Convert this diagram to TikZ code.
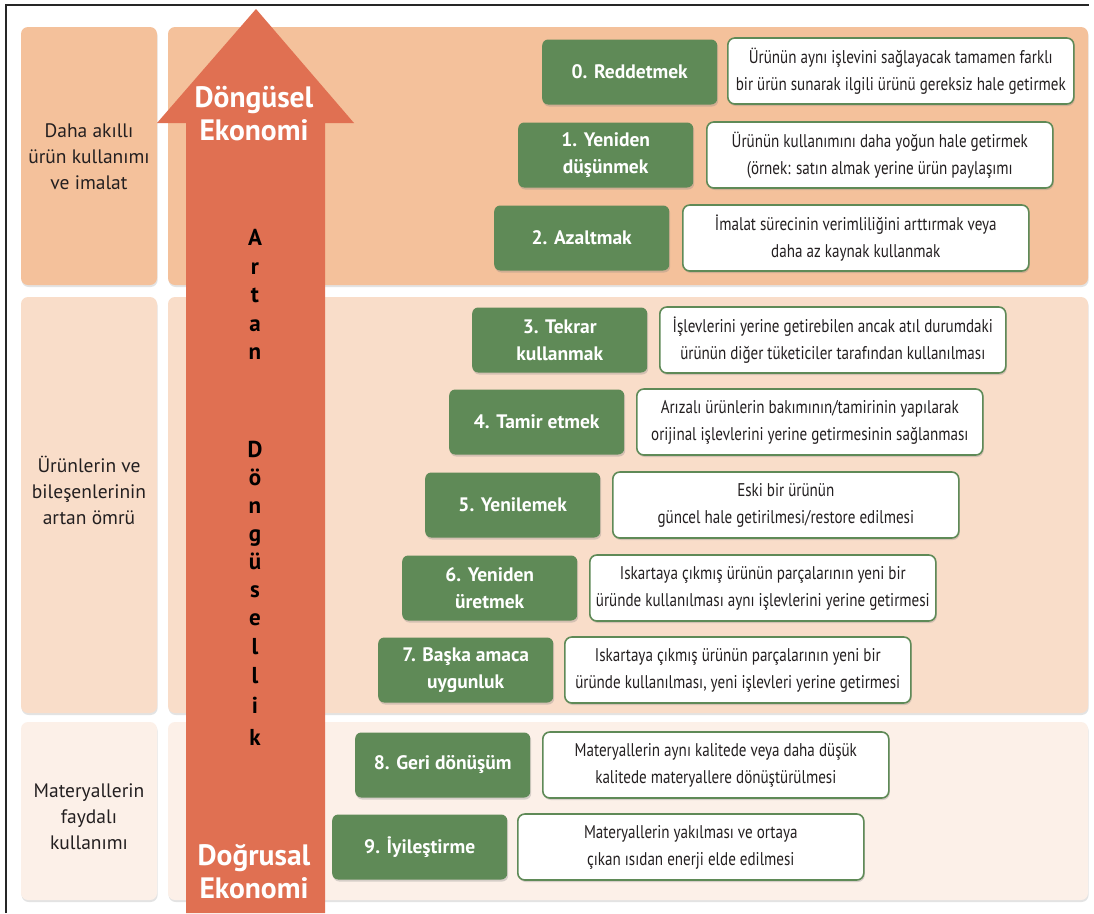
\documentclass[tikz,border=0pt]{standalone}
\usepackage{fontspec}
\setmainfont{PT Sans}
\newfontfamily\condfont[FakeStretch=0.82]{PT Sans}
\usetikzlibrary{shadows}
\definecolor{bandA}{RGB}{244,193,155}
\definecolor{bandB}{RGB}{249,221,201}
\definecolor{bandC}{RGB}{252,240,232}
\definecolor{arrowc}{RGB}{224,112,82}
\definecolor{grn}{RGB}{95,138,87}
\definecolor{txt}{RGB}{35,31,32}
\tikzset{
  band/.style={rounded corners=7pt, inner sep=0pt,
    drop shadow={shadow xshift=0.6pt, shadow yshift=-2pt, opacity=0.22}},
  sidelabel/.style={align=center, text=txt, font=\fontsize{19.5}{26}\selectfont},
  greenbox/.style={fill=grn, rounded corners=6pt, minimum width=175pt, minimum height=65pt,
    inner sep=2pt, text=white, align=center, anchor=west,
    font=\bfseries\fontsize{19.5}{27}\selectfont,
    drop shadow={shadow xshift=1pt, shadow yshift=-2pt, opacity=0.3}},
  whitebox/.style={fill=white, draw=grn, line width=1.6pt, rounded corners=7pt,
    minimum width=346pt, minimum height=66pt, inner sep=2pt, align=center, anchor=west,
    text=txt, font=\condfont\fontsize{18.4}{27}\selectfont,
    drop shadow={shadow xshift=1pt, shadow yshift=-2pt, opacity=0.3}},
  arrowtext/.style={text=white, align=center, font=\bfseries\fontsize{29.5}{33}\selectfont},
  vletter/.style={text=black, anchor=base, font=\bfseries\fontsize{23}{23}\selectfont, inner sep=0pt}
}
\begin{document}
\begin{tikzpicture}[x=1pt,y=-1pt]
\useasboundingbox (0,0) rectangle (1094,913);
\fill[white] (0,0) rectangle (1094,913);
\draw[line width=1.2pt, black!85] (6,913) -- (6,5) -- (1089,5);

% bands
\node[band, fill=bandA, minimum width=136pt, minimum height=258pt] (side1) at (89,156) {};
\node[band, fill=bandA, minimum width=920pt, minimum height=258pt] (panel1) at (628,156) {};
\node[band, fill=bandB, minimum width=136pt, minimum height=416pt] (side2) at (89,505) {};
\node[band, fill=bandB, minimum width=920pt, minimum height=416pt] (panel2) at (628,505) {};
\node[band, fill=bandC, minimum width=136pt, minimum height=178pt] (side3) at (89,811) {};
\node[band, fill=bandC, minimum width=920pt, minimum height=178pt] (panel3) at (628,811) {};

\node[sidelabel] (lab1) at (89,157) {Daha akıllı\\ürün kullanımı\\ve imalat};
\node[sidelabel] (lab2) at (89,490) {Ürünlerin ve\\bileşenlerinin\\artan ömrü};
\node[sidelabel] (lab3) at (89,817) {Materyallerin\\faydalı\\kullanımı};

% arrow
\fill[arrowc] (186,913) -- (186,123) -- (157,123) -- (256,9) -- (354,123) -- (325,123) -- (325,913) -- cycle;
\node[arrowtext] (top) at (254,114) {Döngüsel\\Ekonomi};
\node[arrowtext] (bot) at (254,872) {Doğrusal\\Ekonomi};
\foreach \ch/\yy [count=\i] in {A/245,r/274,t/302,a/331,n/359,D/457,ö/485,n/513,g/541,ü/569,s/597,e/625,l/654,l/683,i/713,k/745}
  \node[vletter] (v\i) at (255,\yy) {\ch};

% rows
\node[greenbox] (g0) at (542,72) {0. Reddetmek};
\node[whitebox] (w0) at (727,71) {Ürünün aynı işlevini sağlayacak tamamen farklı\\bir ürün sunarak ilgili ürünü gereksiz hale getirmek};
\node[greenbox] (g1) at (518,155) {1. Yeniden\\düşünmek};
\node[whitebox] (w1) at (706,155) {Ürünün kullanımını daha yoğun hale getirmek\\(örnek: satın almak yerine ürün paylaşımı};
\node[greenbox] (g2) at (494,238) {2. Azaltmak};
\node[whitebox] (w2) at (682,238) {İmalat sürecinin verimliliğini arttırmak veya\\daha az kaynak kullanmak};
\node[greenbox] (g3) at (472,340) {3. Tekrar\\kullanmak};
\node[whitebox] (w3) at (659,340) {İşlevlerini yerine getirebilen ancak atıl durumdaki\\ürünün diğer tüketiciler tarafından kullanılması};
\node[greenbox] (g4) at (449,422) {4. Tamir etmek};
\node[whitebox] (w4) at (636,422) {Arızalı ürünlerin bakımının/tamirinin yapılarak\\orijinal işlevlerini yerine getirmesinin sağlanması};
\node[greenbox] (g5) at (425,505) {5. Yenilemek};
\node[whitebox] (w5) at (612,505) {Eski bir ürünün\\güncel hale getirilmesi/restore edilmesi};
\node[greenbox] (g6) at (402,588) {6. Yeniden\\üretmek};
\node[whitebox] (w6) at (589,588) {Iskartaya çıkmış ürünün parçalarının yeni bir\\üründe kullanılması aynı işlevlerini yerine getirmesi};
\node[greenbox] (g7) at (378,670) {7. Başka amaca\\uygunluk};
\node[whitebox] (w7) at (564,670) {Iskartaya çıkmış ürünün parçalarının yeni bir\\üründe kullanılması, yeni işlevleri yerine getirmesi};
\node[greenbox] (g8) at (355,765) {8. Geri dönüşüm};
\node[whitebox] (w8) at (542,765) {Materyallerin aynı kalitede veya daha düşük\\kalitede materyallere dönüştürülmesi};
\node[greenbox] (g9) at (332,847) {9. İyileştirme};
\node[whitebox] (w9) at (517,847) {Materyallerin yakılması ve ortaya\\çıkan ısıdan enerji elde edilmesi};
\end{tikzpicture}
\end{document}
